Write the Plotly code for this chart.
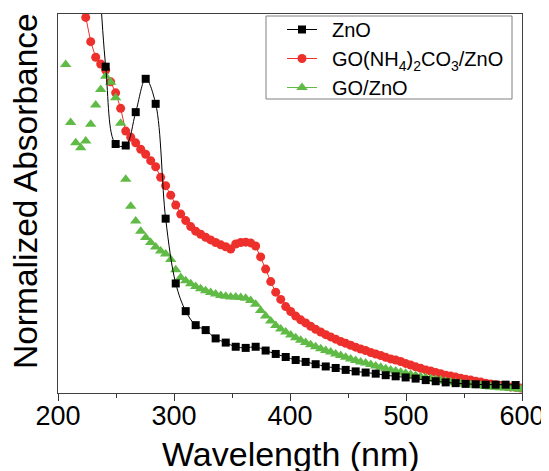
import plotly.graph_objects as go

# ---- data ----
wl_grid = [206.6, 210.9, 215.3, 219.6, 223.9, 228.2, 232.5, 236.8, 241.1, 245.4,
           249.7, 254.0, 258.4, 262.7, 267.0, 271.3, 275.6, 279.9, 284.2, 288.5,
           292.8, 297.2, 301.5, 305.8, 310.1, 314.4, 318.7, 323.0, 327.3, 331.6,
           335.9, 340.3, 344.6, 348.9, 353.2, 357.5, 361.8, 366.1, 370.4, 374.7,
           379.0, 383.4, 387.7, 392.0, 396.3, 400.6, 404.9, 409.2, 413.5, 417.8,
           422.1, 426.5, 430.8, 435.1, 439.4, 443.7, 448.0, 452.3, 456.6, 460.9,
           465.2, 469.6, 473.9, 478.2, 482.5, 486.8, 491.1, 495.4, 499.7, 504.0,
           508.3, 512.7, 517.0, 521.3, 525.6, 529.9, 534.2, 538.5, 542.8, 547.1,
           551.4, 555.8, 560.1, 564.4, 568.7, 573.0, 577.3, 581.6, 585.9, 590.2,
           594.5, 598.9]

go_zno_wl = wl_grid
go_zno_abs = [0.867, 0.714, 0.660, 0.647, 0.665, 0.709, 0.760, 0.801, 0.836, 0.820,
              0.779, 0.712, 0.564, 0.493, 0.454, 0.427, 0.410, 0.397, 0.385, 0.375,
              0.367, 0.352, 0.325, 0.305, 0.296, 0.288, 0.281, 0.275, 0.270, 0.265,
              0.261, 0.257, 0.255, 0.253, 0.253, 0.252, 0.250, 0.244, 0.234, 0.218,
              0.203, 0.190, 0.178, 0.169, 0.161, 0.153, 0.146, 0.139, 0.133, 0.127,
              0.122, 0.117, 0.112, 0.108, 0.103, 0.099, 0.094, 0.090, 0.086, 0.082,
              0.079, 0.075, 0.071, 0.068, 0.064, 0.061, 0.058, 0.055, 0.052, 0.049,
              0.046, 0.043, 0.041, 0.038, 0.036, 0.034, 0.031, 0.029, 0.027, 0.025,
              0.023, 0.022, 0.020, 0.019, 0.017, 0.016, 0.015, 0.014, 0.013, 0.012,
              0.011, 0.010]

go_nh4_wl = wl_grid[3:]
go_nh4_abs = [1.058,
              0.991, 0.927, 0.886, 0.868, 0.852, 0.821, 0.792, 0.751, 0.691, 0.675,
              0.660, 0.643, 0.630, 0.613, 0.597, 0.569, 0.547, 0.522, 0.496, 0.472,
              0.455, 0.439, 0.427, 0.419, 0.411, 0.404, 0.397, 0.391, 0.386, 0.380,
              0.393, 0.397, 0.398, 0.396, 0.388, 0.359, 0.327, 0.294, 0.266, 0.247,
              0.228, 0.215, 0.203, 0.193, 0.185, 0.176, 0.168, 0.161, 0.154, 0.148,
              0.142, 0.136, 0.131, 0.126, 0.121, 0.116, 0.112, 0.107, 0.103, 0.099,
              0.094, 0.090, 0.087, 0.083, 0.078, 0.074, 0.069, 0.065, 0.061, 0.058,
              0.054, 0.051, 0.047, 0.045, 0.042, 0.039, 0.036, 0.034, 0.031, 0.029,
              0.026, 0.024, 0.022, 0.020, 0.018, 0.016, 0.015, 0.013]

zno_wl = wl_grid[4:91:2]
zno_abs = [2.08, 1.30,
           0.861, 0.657, 0.653, 0.741, 0.829, 0.763, 0.460, 0.289, 0.216, 0.179,
           0.166, 0.144, 0.133, 0.122, 0.119, 0.122, 0.112, 0.103, 0.095, 0.087,
           0.082, 0.076, 0.070, 0.066, 0.061, 0.057, 0.054, 0.051, 0.047, 0.044,
           0.041, 0.038, 0.034, 0.031, 0.028, 0.026, 0.024, 0.023, 0.022, 0.022,
           0.022, 0.021]

x_ticks = [200, 300, 400, 500, 600]

FONT = "Liberation Sans, Arial, sans-serif"
RED = "rgb(238,48,44)"
GREEN = "rgb(96,186,70)"
GAP = "\u2002"  # space between legend symbol and label

fig = go.Figure()

fig.add_trace(go.Scatter(
    x=go_nh4_wl, y=go_nh4_abs, mode="lines+markers",
    name=GAP + "GO(NH<sub>4</sub>)<sub>2</sub>CO<sub>3</sub>/ZnO",
    line=dict(color=RED, width=1),
    marker=dict(symbol="circle", size=9, color=RED, line=dict(width=0)),
    legendrank=2))

fig.add_trace(go.Scatter(
    x=go_zno_wl, y=go_zno_abs, mode="markers", name="GO/ZnO",
    marker=dict(symbol="triangle-up", size=10, color=GREEN, line=dict(width=0)),
    showlegend=False))

fig.add_trace(go.Scatter(
    x=[None], y=[None], mode="lines+markers", name=GAP + "GO/ZnO",
    line=dict(color=GREEN, width=1),
    marker=dict(symbol="triangle-up", size=10, color=GREEN, line=dict(width=0)),
    legendrank=3))

fig.add_trace(go.Scatter(
    x=zno_wl, y=zno_abs, mode="lines+markers", name=GAP + "ZnO",
    line=dict(color="black", width=1, shape="spline", smoothing=1),
    marker=dict(symbol="square", size=8, color="black", line=dict(width=0)),
    legendrank=1))

# page body has an 8px margin, so the figure is 8px smaller and margins shifted
fig.update_layout(
    width=541, height=463,
    margin=dict(l=50, r=27, t=6, b=78, autoexpand=False),
    paper_bgcolor="white", plot_bgcolor="white",
    font=dict(family=FONT, color="black"),
    showlegend=True,
    legend=dict(x=(282 - 58) / 464, y=(393 - 10) / 379,
                xanchor="left", yanchor="top",
                bgcolor="rgba(0,0,0,0)", borderwidth=0,
                font=dict(size=20, family=FONT), itemwidth=30,
                tracegroupgap=0),
    shapes=[dict(type="rect", xref="paper", yref="paper",
                 x0=(266 - 58) / 464, x1=(512 - 58) / 464,
                 y0=(393 - 99) / 379, y1=(393 - 16) / 379,
                 line=dict(color="#808080", width=1), fillcolor="white",
                 layer="above")],
    xaxis=dict(range=[200, 600], tickvals=x_ticks, ticks="outside",
               ticklen=7, tickwidth=1, tickcolor="#333333",
               minor=dict(dtick=50, ticks="outside", ticklen=4, tickwidth=1,
                          tickcolor="#333333", showgrid=False),
               showline=True, linecolor="#404040", linewidth=1.3, mirror=True,
               showgrid=False, zeroline=False, ticklabelstandoff=-9,
               tickfont=dict(size=27, family=FONT)),
    yaxis=dict(range=[0, 1], showticklabels=False, ticks="",
               showline=True, linecolor="#404040", linewidth=1.3, mirror=True,
               showgrid=False, zeroline=False),
    annotations=[
        dict(text="Wavelength (nm)", xref="paper", yref="paper",
             x=0.5026, y=(393 - 454) / 379, xanchor="center", yanchor="middle",
             showarrow=False, font=dict(size=34, family=FONT)),
        dict(text="Normalized Absorbance", xref="paper", yref="paper",
             x=(25.5 - 58) / 464, y=(393 - 191.5) / 379, xanchor="center",
             yanchor="middle", textangle=-90, showarrow=False,
             font=dict(size=33.5, family=FONT)),
    ],
)

fig.write_html("out.html")
